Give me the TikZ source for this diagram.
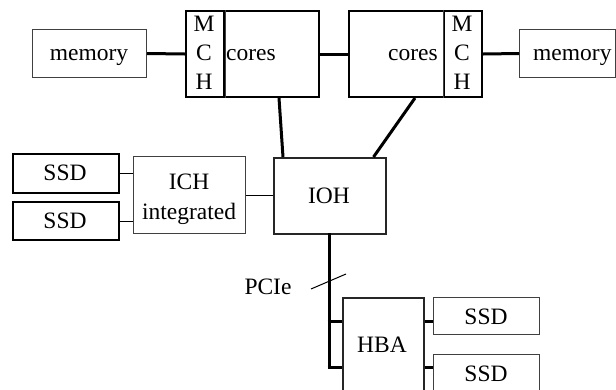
\documentclass[tikz,border=0pt]{standalone}
\usepackage{fontspec}
\setmainfont{Liberation Serif}
\begin{document}
\begin{tikzpicture}[x=1pt,y=-1pt,
  every node/.style={font=\fontsize{23.5}{29}\selectfont, inner sep=0pt},
  box/.style={draw=black!75, line width=1pt, anchor=north west},
  boldbox/.style={draw=black, line width=2pt, anchor=north west},
  midbox/.style={draw=black!85, line width=1.5pt, anchor=north west},
  thin/.style={draw=black, line width=1pt},
  bus/.style={draw=black, line width=3pt},
  lbl/.style={draw=none, anchor=base}]
\useasboundingbox (0,0) rectangle (616,389);
\clip (0,0) rectangle (616,389);

% processors with their memory controller hubs
\node[boldbox, minimum width=38pt, minimum height=86pt] (mchL) at (185,10) {};
\node[boldbox, minimum width=95pt, minimum height=86pt] (coresL) at (223,10) {};
\draw[line width=1pt, black!75] (mchL.north east) -- (mchL.south east);
\node[boldbox, minimum width=95pt, minimum height=86pt] (coresR) at (348,10) {};
\node[boldbox, minimum width=38pt, minimum height=86pt] (mchR) at (443,10) {};
\draw[line width=1pt, black!75] (mchR.north west) -- (mchR.south west);
\node[lbl] (mchLm) at (204,31) {M};
\node[lbl] (mchLc) at (204,60) {C};
\node[lbl] (mchLh) at (204,89) {H};
\node[lbl] (mchRm) at (462,31) {M};
\node[lbl] (mchRc) at (462,60) {C};
\node[lbl] (mchRh) at (462,89) {H};
\node[lbl, anchor=base west] (coresLt) at (226,60) {cores};
\node[lbl, anchor=base east] (coresRt) at (438,60) {cores};

% memories
\node[box, minimum width=114pt, minimum height=48pt] (memL) at (32,29) {};
\node[lbl] (memLt) at (89,60) {memory};
\node[box, minimum width=96pt, minimum height=48pt] (memR) at (519,29) {};
\node[lbl, anchor=base west] (memRt) at (533,60) {memory};

% I/O hub and ICH
\node[midbox, minimum width=112pt, minimum height=76pt] (ioh) at (273,157) {};
\node[lbl] (ioht) at (329,203) {IOH};
\node[box, minimum width=112pt, minimum height=77pt] (ich) at (133,156) {};
\node[lbl] (icht1) at (189,189) {ICH};
\node[lbl] (icht2) at (189,219) {integrated};

% SSDs on the ICH
\node[boldbox, minimum width=106pt, minimum height=39pt] (ssdA) at (12,153) {};
\node[lbl] (ssdAt) at (65,180) {SSD};
\node[boldbox, minimum width=106pt, minimum height=38pt] (ssdB) at (12,201) {};
\node[lbl] (ssdBt) at (65,228) {SSD};

% HBA and its SSDs
\node[midbox, minimum width=81pt, minimum height=110pt] (hba) at (342,297) {};
\node[lbl] (hbat) at (382,352) {HBA};
\node[box, minimum width=106pt, minimum height=37pt] (ssdC) at (433,297) {};
\node[lbl] (ssdCt) at (486,324) {SSD};
\node[box, minimum width=106pt, minimum height=40pt] (ssdD) at (433,354) {};
\node[lbl] (ssdDt) at (486,381) {SSD};

% memory and processor links
\draw[bus] (memL.east) -- (mchL.west);
\draw[bus] (coresL.east) -- (coresR.west);
\draw[bus] (mchR.east) -- (memR.west);
\draw[bus] ([xshift=-41pt]coresL.south east) -- ([xshift=10pt]ioh.north west);
\draw[bus] ([xshift=67pt]coresR.south west) -- ([xshift=-13pt]ioh.north east);

% ICH links
\draw[thin] (ich.east) -- (ioh.west |- ich.east);
\draw[thin] (ssdA.east) -- (ich.west |- ssdA.east);
\draw[thin] (ssdB.east) -- (ich.west |- ssdB.east);

% PCIe bus down to the HBA
\coordinate (pciTop) at (329,233);
\coordinate (pciBot) at (329,367);
\coordinate (pciMid) at (329,321);
\draw[bus] (pciTop) -- ([yshift=1.5pt]pciBot);
\draw[bus] ([xshift=-1.5pt]pciMid) -- (hba.west |- pciMid);
\draw[bus] ([xshift=-1.5pt]pciBot) -- (hba.west |- pciBot);
\coordinate (slashA) at (311,289);
\coordinate (slashB) at (346,274);
\draw[thin] (slashA) -- (slashB);
\node[lbl] (pcie) at (268,294) {PCIe};

% HBA to SSDs
\draw[bus] (hba.east |- pciMid) -- (ssdC.west |- pciMid);
\draw[bus] (hba.east |- pciBot) -- (ssdD.west |- pciBot);
\end{tikzpicture}
\end{document}
